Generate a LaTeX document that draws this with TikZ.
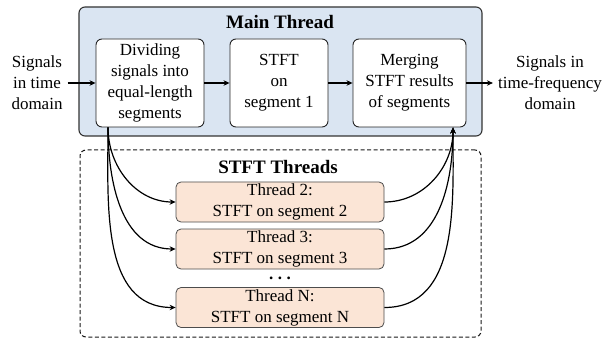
\documentclass[tikz,border=0pt]{standalone}
\usepackage{fontspec}
\setmainfont{Liberation Serif}
\usetikzlibrary{arrows.meta}
\definecolor{mainblue}{HTML}{DAE5F2}
\definecolor{peach}{HTML}{FBE5D6}
\begin{document}
\begin{tikzpicture}[x=1pt,y=1pt]
\tikzset{
 lbl/.style={font=\fontsize{17}{21}\selectfont, align=center, inner sep=0pt},
 proc/.style={lbl, draw=black!85, line width=0.9pt, rounded corners=6pt, fill=white, minimum height=88pt},
 thr/.style={lbl, draw=black!70, line width=0.8pt, rounded corners=5pt, fill=peach, minimum width=208pt, minimum height=40pt},
 ttl/.style={font=\bfseries\fontsize{19}{22}\selectfont, inner sep=0pt},
 arr/.style={-{Stealth[length=6pt,width=5.5pt]}, line width=1.2pt},
 group/.style={draw=black!80, line width=1.1pt, rounded corners=6pt, inner sep=0pt},
}
\useasboundingbox (0,0) rectangle (602,-339);
% containers
\node[group, fill=mainblue, minimum width=403pt, minimum height=129pt] (main) at (280.5,-71.5) {};
\node[group, draw=black!90, dash pattern=on 4pt off 2.5pt, line width=1pt, minimum width=401pt, minimum height=187pt] (threads) at (280.5,-243.5) {};
\node[ttl] (maintitle) at (280,-22) {Main Thread};
\node[ttl] (thrtitle) at (278,-167) {STFT Threads};
% main thread steps
\node[proc, minimum width=108pt] (b1) at (150,-83) {Dividing\\signals into\\equal-length\\segments};
\node[proc, minimum width=98pt] (b2) at (279,-83) {STFT\\on\\segment 1};
\node[proc, minimum width=113pt] (b3) at (409.5,-83) {Merging\\STFT results\\of segments};
% side labels
\node[lbl, inner xsep=5pt] (sin) at (37,-83) {Signals\\in time\\domain};
\node[lbl, inner xsep=5pt] (sout) at (550,-83) {Signals in\\time-frequency\\domain};
% threads
\node[thr] (t2) at (280,-202) {Thread 2:\\STFT on segment 2};
\node[thr] (t3) at (280,-249) {Thread 3:\\STFT on segment 3};
\node[lbl, anchor=base] (dots) at (280,-279) {\textbf{.\hspace{4.5pt}.\hspace{4.5pt}.}};
\node[thr] (tn) at (280,-307.5) {Thread N:\\STFT on segment N};
% connectors
\draw[arr] (sin.east) -- (b1.west);
\draw[arr] (b1.east) -- (b2.west);
\draw[arr] (b2.east) -- (b3.west);
\draw[arr] (b3.east) -- (sout.west);
\foreach \t in {t2,t3,tn}{
  \draw[arr] ([xshift=-42pt]b1.south) to[out=-90,in=180] (\t.west);
  \draw[arr] (\t.east) to[out=0,in=-90] ([xshift=43.5pt]b3.south);
}
\end{tikzpicture}
\end{document}
